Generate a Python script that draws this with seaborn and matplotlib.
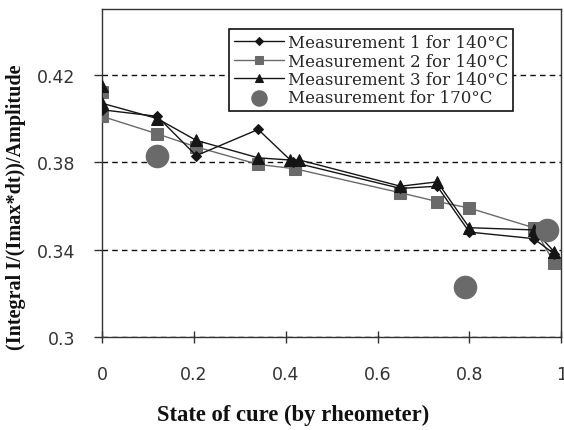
import matplotlib
matplotlib.use("Agg")
import matplotlib.pyplot as plt
import seaborn as sns
import pandas as pd

# ---- data ----
x_m1 = [0.0, 0.12, 0.205, 0.34, 0.415, 0.65, 0.73, 0.80, 0.94, 0.985]
y_m1 = [0.404, 0.401, 0.383, 0.395, 0.380, 0.368, 0.369, 0.348, 0.345, 0.338]

x_m2 = [0.0, 0.0, 0.12, 0.205, 0.34, 0.42, 0.65, 0.73, 0.80, 0.94, 0.985]
y_m2 = [0.412, 0.401, 0.393, 0.387, 0.379, 0.377, 0.366, 0.362, 0.359, 0.350, 0.334]

x_m3 = [0.0, 0.0, 0.12, 0.205, 0.34, 0.41, 0.43, 0.65, 0.73, 0.80, 0.94, 0.985]
y_m3 = [0.415, 0.407, 0.400, 0.390, 0.382, 0.381, 0.381, 0.369, 0.371, 0.350, 0.349, 0.339]

x_170 = [0.12, 0.79, 0.97]
y_170 = [0.383, 0.323, 0.349]

labels = ["Measurement 1 for 140°C", "Measurement 2 for 140°C",
          "Measurement 3 for 140°C", "Measurement for 170°C"]

x_ticks = [0, 0.2, 0.4, 0.6, 0.8, 1.0]
x_tick_labels = ["0", "0.2", "0.4", "0.6", "0.8", "1"]
y_ticks = [0.30, 0.34, 0.38, 0.42]
y_tick_labels = ["0.3", "0.34", "0.38", "0.42"]

x_label = "State of cure (by rheometer)"
y_label = "(Integral I/(Imax*dt))/Amplitude"

# ---- style ----
sns.set_theme(style="white")
plt.rcParams["font.family"] = ["DejaVu Sans"]

fig = plt.figure(figsize=(5.64, 4.31), dpi=100)
ax = fig.add_axes([0.181, 0.216, 0.814, 0.760])

black = "#151515"
gray = "#6a6a6a"

d1 = pd.DataFrame({"x": x_m1, "y": y_m1})
d2 = pd.DataFrame({"x": x_m2, "y": y_m2})
d3 = pd.DataFrame({"x": x_m3, "y": y_m3})
d4 = pd.DataFrame({"x": x_170, "y": y_170})

sns.lineplot(data=d1, x="x", y="y", ax=ax, estimator=None, sort=False,
             color=black, lw=1.0, marker="D", markersize=5.6,
             markeredgecolor=black, markerfacecolor=black, label=labels[0], zorder=4)
sns.lineplot(data=d2, x="x", y="y", ax=ax, estimator=None, sort=False,
             color=gray, lw=1.0, marker="s", markersize=9,
             markeredgecolor=gray, markerfacecolor=gray, label=labels[1], zorder=3)
sns.lineplot(data=d3, x="x", y="y", ax=ax, estimator=None, sort=False,
             color=black, lw=1.0, marker="^", markersize=8.5,
             markeredgecolor=black, markerfacecolor=black, label=labels[2], zorder=5)
sns.scatterplot(data=d4, x="x", y="y", ax=ax, color=gray, s=17 ** 2,
                edgecolor=gray, linewidth=0, label=labels[3], zorder=6)

ax.set_xlim(0, 1.0)
ax.set_ylim(0.30, 0.45)
ax.set_xticks(x_ticks)
ax.set_xticklabels(x_tick_labels)
ax.set_yticks(y_ticks)
ax.set_yticklabels(y_tick_labels)

ax.yaxis.grid(True, linestyle=(0, (4, 3)), color="#111111", linewidth=1.0)
ax.xaxis.grid(False)
ax.set_axisbelow(True)

for s in ax.spines.values():
    s.set_visible(True)
    s.set_color("#333333")
    s.set_linewidth(1.0)

ax.tick_params(axis="x", direction="inout", length=8, width=1.0, color="#333333",
               labelsize=12.5, labelcolor="#333333", pad=16, bottom=True)
ax.tick_params(axis="y", direction="out", length=6, width=1.0, color="#333333",
               labelsize=12.5, labelcolor="#333333", pad=13, left=True)

ax.set_xlabel(x_label, family=["Liberation Serif", "DejaVu Serif"], weight="bold",
              fontsize=16.3, color="#111111")
ax.set_ylabel(y_label, family=["Liberation Serif", "DejaVu Serif"], weight="bold",
              fontsize=14.5, color="#111111")
ax.xaxis.set_label_coords(0.416, -0.205)
ax.yaxis.set_label_coords(-0.165, 0.398)

leg = ax.legend(loc="upper right", bbox_to_anchor=(0.895, 0.939), borderaxespad=0,
                frameon=True, fancybox=False, edgecolor="#111111",
                prop={"family": "DejaVu Serif", "size": 12},
                handlelength=3.0, handletextpad=0.25, labelspacing=0.08,
                borderpad=0.3, markerscale=0.7)
leg.get_frame().set_linewidth(1.2)
leg.get_frame().set_facecolor("white")
leg.get_frame().set_alpha(1)
leg.set_zorder(10)

fig.savefig("out.png", dpi=100)
